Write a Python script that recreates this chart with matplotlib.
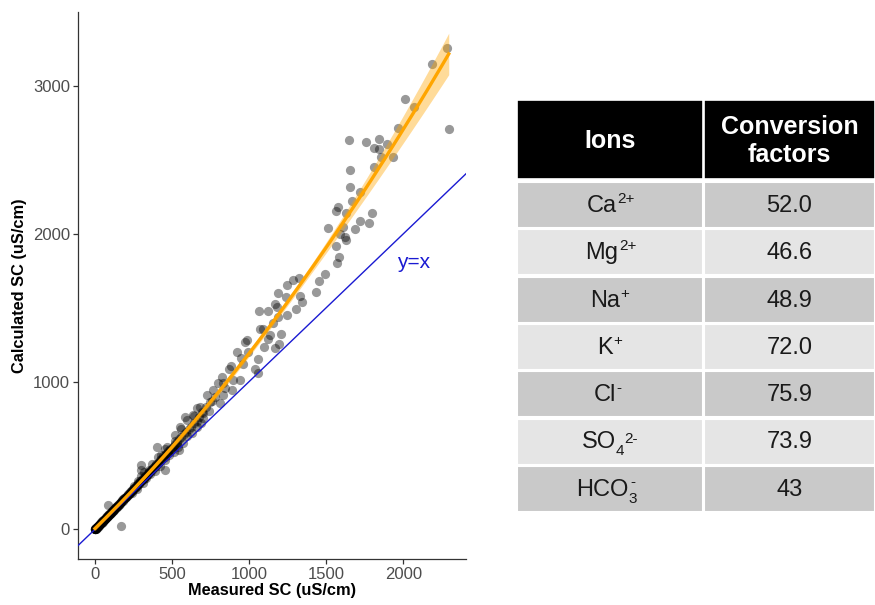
import numpy as np
import matplotlib.pyplot as plt
from matplotlib.patches import Rectangle

plt.rcParams['font.family'] = ['Liberation Sans', 'DejaVu Sans']

# measured vs calculated specific conductance (uS/cm)
measured = [
    # dense band near the origin
    0, 3, 5, 7, 9, 11, 13, 16, 18, 21, 24, 26, 29, 32, 34, 37, 40, 42, 45, 48,
    51, 54, 57, 60, 63, 66, 69, 72, 76, 79, 82, 86, 90, 94, 98, 102, 106, 110,
    114, 118, 122, 126, 131, 135, 140, 145, 150, 155, 160, 166, 171, 177, 182,
    188, 194, 200, 206, 212, 218, 225, 231, 238, 244, 251, 258, 265, 272, 280,
    287, 295, 302, 310, 318, 326, 335, 343, 352, 361, 370, 380, 389, 399, 409,
    420, 431, 442, 453, 465, 477, 490, 503, 517, 531, 546, 560, 576, 592, 608,
    625, 642, 660, 678,
    0, 1, 2, 3, 6, 1, 4, 8, 12, 15, 19, 23, 27, 31, 35, 39, 44, 49, 53, 58, 62,
    67, 71, 75, 80, 85, 89, 93, 97, 101, 105, 109, 113, 117, 121, 125, 130, 134,
    139, 143, 148, 153, 158, 163, 168, 174, 179, 185, 191, 197, 203, 209, 215,
    222, 228, 235, 242, 249, 256, 263, 270, 278, 285, 293, 300, 308, 316, 324,
    333, 341, 350, 359, 368, 378, 387, 397, 407, 418, 429, 440, 452, 464, 476,
    489, 502, 515, 530,
    # scatter around the band
    240, 270, 310, 330, 360, 390, 420, 455, 480, 510, 540, 570, 600, 630, 660,
    690, 280, 320, 350, 370, 430, 470, 520, 560, 600, 640, 700, 720, 740, 760,
    520, 455, 410, 300, 250,
    167, 86, 299, 296, 404, 454, 547,
    # middle range
    1071, 1088, 1153, 1205, 1136, 1125, 984, 974, 1097, 1168, 1192, 924, 948,
    995, 1058, 1038, 1060, 962, 881, 941, 894, 867, 822, 801, 833, 844, 768,
    887, 779, 833, 725, 746, 681, 660, 692, 811, 638, 584, 552, 703,
    1720, 1670, 1579, 1564, 1627, 1799, 1720, 1780, 1514, 1689, 1611, 1590,
    1620, 1627, 1564, 1585, 1571, 1492, 1451, 1432, 1326, 1287, 1248, 1185,
    1330, 1341, 1240, 1166, 1302, 1121, 1062, 1179, 1244, 1190,
    # upper range
    2285, 2189, 2010, 2068, 2295, 1966, 1646, 1761, 1843, 1811, 1843, 1895,
    1854, 1931, 1811, 1653, 1657,
]
calculated = [
    0, 2, 6, 9, 8, 13, 14, 17, 21, 22, 27, 28, 31, 36, 36, 41, 43, 47, 48, 53,
    55, 60, 61, 66, 68, 73, 74, 80, 82, 87, 88, 95, 97, 104, 106, 113, 115, 122,
    124, 131, 133, 140, 142, 150, 152, 161, 163, 172, 174, 185, 186, 196, 198,
    209, 211, 222, 225, 236, 238, 250, 253, 265, 268, 280, 283, 296, 300, 311,
    316, 329, 332, 346, 350, 364, 369, 383, 389, 402, 408, 424, 430, 445, 452,
    468, 477, 494, 502, 518, 530, 547, 557, 578, 590, 610, 622, 644, 658, 680,
    696, 718, 735, 760,
    1, 0, 2, 4, 5, 1, 5, 7, 12, 17, 19, 24, 30, 33, 37, 43, 46, 51, 57, 62, 67,
    71, 77, 81, 85, 92, 96, 101, 105, 110, 112, 118, 123, 127, 130, 137, 141, 146,
    150, 156, 160, 167, 171, 178, 183, 189, 195, 202, 206, 214, 221, 228, 233,
    242, 248, 256, 262, 272, 277, 287, 293, 304, 309, 320, 326, 337, 343, 355,
    362, 374, 380, 393, 400, 414, 421, 435, 443, 458, 466, 482, 490, 508, 517,
    535, 545, 565, 575,
    245, 275, 315, 345, 372, 398, 430, 470, 500, 520, 560, 585, 630, 650, 690,
    720, 330, 390, 400, 440, 500, 560, 640, 680, 740, 770, 790, 830, 800, 870,
    600, 545, 490, 360, 290,
    22, 165, 435, 401, 559, 401, 537,
    1354, 1354, 1395, 1322, 1315, 1286, 1282, 1266, 1236, 1225, 1254, 1198, 1158,
    1202, 1155, 1083, 1056, 1117, 1108, 1011, 1011, 1083, 1033, 988, 988, 955, 943,
    943, 898, 909, 909, 864, 830, 819, 796, 853, 774, 758, 695, 752,
    2286, 2225, 2180, 2155, 2144, 2142, 2089, 2076, 2042, 2033, 2045, 1999,
    1977, 1959, 1916, 1842, 1801, 1729, 1679, 1609, 1699, 1688, 1652, 1598,
    1582, 1541, 1573, 1525, 1490, 1480, 1478, 1507, 1451, 1439,
    3257, 3153, 2915, 2861, 2708, 2715, 2636, 2624, 2643, 2584, 2575, 2607,
    2519, 2521, 2453, 2431, 2320,
]

# ion name, subscript, superscript
ion_base = ['Ca', 'Mg', 'Na', 'K', 'Cl', 'SO', 'HCO']
ion_sub = ['', '', '', '', '', '4', '3']
ion_sup = ['2+', '2+', '+', '+', '-', '2-', '-']
factors = ['52.0', '46.6', '48.9', '72.0', '75.9', '73.9', '43']
headers = ['Ions', 'Conversion\nfactors']

x = np.array(measured, dtype=float)
y = np.array(calculated, dtype=float)

# quadratic smooth with a robust (heteroscedastic) 95% band
X = np.vander(x, 3)
coef = np.linalg.lstsq(X, y, rcond=None)[0]
resid = y - X @ coef
bread = np.linalg.inv(X.T @ X)
cov = bread @ (X.T @ (X * resid[:, None] ** 2)) @ bread
xs = np.linspace(x.min(), x.max(), 200)
Xs = np.vander(xs, 3)
fit = Xs @ coef
se = np.sqrt(np.einsum('ij,jk,ik->i', Xs, cov, Xs))

fig = plt.figure(figsize=(8.75, 6.05), dpi=100)
ax = fig.add_axes([77.7 / 875, 45.7 / 605, 388.3 / 875, 547 / 605])

ax.scatter(x, y, s=44, color='black', alpha=0.4, linewidths=0, zorder=2)
ax.axline((0, 0), slope=1, color='#1a1ad2', lw=1.0, zorder=3)
ax.fill_between(xs, fit - 1.96 * se, fit + 1.96 * se, color='#FFA500',
                alpha=0.4, linewidth=0, zorder=3)
ax.plot(xs, fit, color='#FFA500', lw=2.4, zorder=4)
ax.text(2064, 1803, 'y=x', color='#1a1ad2', fontsize=15, ha='center', va='center')

ax.set_xlim(-112, 2407)
ax.set_ylim(-203, 3500)
ax.set_xticks([0, 500, 1000, 1500, 2000])
ax.set_yticks([0, 1000, 2000, 3000])
ax.tick_params(color='#333333', length=3.5, width=0.9, labelcolor='#4d4d4d',
               labelsize=12, pad=2)
for side in ['top', 'right']:
    ax.spines[side].set_visible(False)
for side in ['left', 'bottom']:
    ax.spines[side].set_color('#333333')
    ax.spines[side].set_linewidth(0.9)
ax.set_xlabel('Measured SC (uS/cm)', fontsize=11.8, fontweight='bold', labelpad=1)
ax.set_ylabel('Calculated SC (uS/cm)', fontsize=11.8, fontweight='bold', labelpad=4)

# table of conversion factors
tab = fig.add_axes([517 / 875, 91 / 605, 358 / 875, 414 / 605])
tab.set_xlim(0, 358)
tab.set_ylim(414, 0)
tab.axis('off')
col_x = [0, 187]
col_w = [186, 171]
for j, h in enumerate(headers):
    tab.add_patch(Rectangle((col_x[j], 0), col_w[j], 79, facecolor='black',
                            edgecolor='white', lw=1.2))
    tab.text(col_x[j] + col_w[j] / 2, 41, h, color='white', fontsize=18,
             fontweight='bold', ha='center', va='center', linespacing=1.2)
for i in range(len(factors)):
    top = 82 + i * 47.3
    fc = '#c9c9c9' if i % 2 == 0 else '#e5e5e5'
    for j in range(2):
        tab.add_patch(Rectangle((col_x[j], top), col_w[j], 46, facecolor=fc,
                                edgecolor='white', lw=1.5))
    shift = 2 + 3 * len(ion_sup[i]) + 3 * len(ion_sub[i])
    base = tab.text(col_x[0] + col_w[0] / 2 - shift, top + 24, ion_base[i],
                    color='#1a1a1a', fontsize=17, ha='center', va='center')
    sub = None
    if ion_sub[i]:
        sub = tab.annotate(ion_sub[i], xy=(1, 0.1), xycoords=base,
                           xytext=(0, 0), textcoords='offset points',
                           color='#1a1a1a', fontsize=11, ha='left', va='center')
    if sub is not None and ion_sub[i] == '3':
        # the minus of bicarbonate sits over its subscript
        tab.annotate(ion_sup[i], xy=(0.6, 1), xycoords=sub,
                     xytext=(0, 2), textcoords='offset points',
                     color='#1a1a1a', fontsize=11, ha='center', va='bottom')
    elif sub is not None:
        tab.annotate(ion_sup[i], xy=(1, 1), xycoords=sub,
                     xytext=(0, -1), textcoords='offset points',
                     color='#1a1a1a', fontsize=11, ha='left', va='bottom')
    else:
        tab.annotate(ion_sup[i], xy=(1, 1), xycoords=base,
                     xytext=(0.3, -3), textcoords='offset points',
                     color='#1a1a1a', fontsize=11, ha='left', va='center')
    tab.text(col_x[1] + col_w[1] / 2, top + 24, factors[i], color='#1a1a1a',
             fontsize=17, ha='center', va='center')

fig.savefig('out.png', dpi=100)
